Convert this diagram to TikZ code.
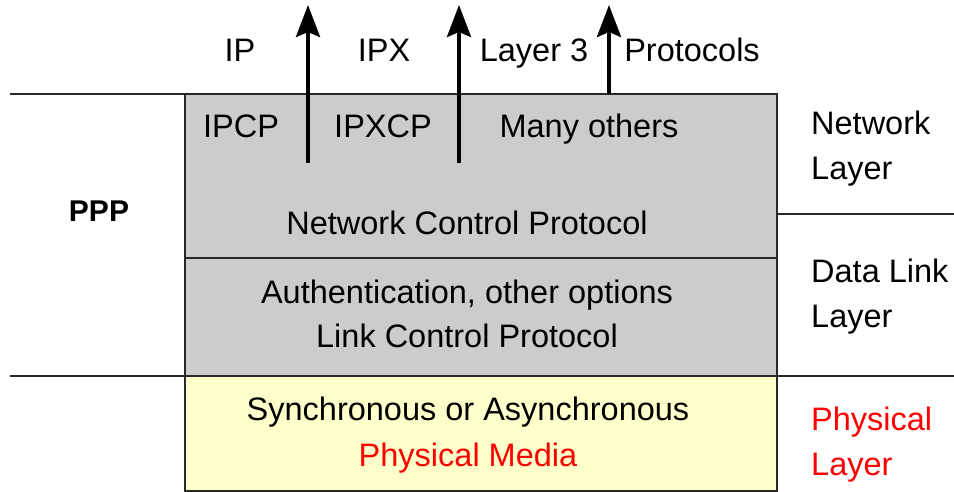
\documentclass[tikz,border=0pt]{standalone}
\usepackage{fontspec}
\setmainfont{Liberation Sans}
\usetikzlibrary{arrows.meta}
\definecolor{boxgray}{RGB}{204,204,204}
\definecolor{boxyellow}{RGB}{255,255,204}
\definecolor{edge}{RGB}{40,40,40}
\tikzset{
  x=1pt, y=-1pt,
  txt/.style={anchor=base, inner sep=0pt, font=\fontsize{32.5}{38}\selectfont},
  lefttxt/.style={txt, anchor=base west},
  redtxt/.style={text={rgb,255:red,255;green,0;blue,0}},
  rule/.style={draw=edge, line width=1.5pt},
  uparrow/.style={line width=4pt, -{Stealth[length=32pt,width=24pt,inset=5pt]}},
}
\begin{document}
\begin{tikzpicture}
\useasboundingbox (0,0) rectangle (954,492);
% boxes
\fill[boxgray] (185,94) rectangle (777,376);
\fill[boxyellow] (185,376) rectangle (777,491);
\draw[rule] (185,94) rectangle (777,376);
\draw[rule] (185,258) -- (777,258);
\draw[rule] (185,376) -- (185,491) -- (777,491) -- (777,376);
% side rules
\coordinate (lt) at (10,94);
\coordinate (lb) at (10,376);
\coordinate (rm) at (954,214);
\coordinate (rb) at (954,376);
\draw[rule] (lt) -- (185,94);
\draw[rule] (lb) -- (185,376);
\draw[rule] (777,214) -- (rm);
\draw[rule] (777,376) -- (rb);
% arrows
\coordinate (a1s) at (308,163); \coordinate (a1e) at (308,5);
\coordinate (a2s) at (459,163); \coordinate (a2e) at (459,5);
\coordinate (a3s) at (609,94);  \coordinate (a3e) at (609,5);
\draw[uparrow] (a1s) -- (a1e);
\draw[uparrow] (a2s) -- (a2e);
\draw[uparrow] (a3s) -- (a3e);
% top labels
\node[txt] (ip) at (240,62) {IP};
\node[txt] (ipx) at (384,62) {IPX};
\node[txt] (l3) at (534,62) {Layer 3};
\node[txt] (prot) at (692,62) {Protocols};
% in box
\node[txt] (ipcp) at (241,138) {IPCP};
\node[txt] (ipxcp) at (383,138) {IPXCP};
\node[txt] (many) at (589,138) {Many others};
\node[txt] (ncp) at (467,235) {Network Control Protocol};
\node[txt] (auth) at (467,303) {Authentication, other options};
\node[txt] (lcp) at (467,347) {Link Control Protocol};
\node[txt] (sync) at (468,420) {Synchronous or Asynchronous};
\node[txt, redtxt] (media) at (468,466) {Physical Media};
% left
\node[txt, font=\fontsize{30}{36}\selectfont\bfseries] (ppp) at (99,222) {PPP};
% right
\node[lefttxt] (nl1) at (811,135) {Network};
\node[lefttxt] (nl2) at (811,180) {Layer};
\node[lefttxt] (dl1) at (811,282) {Data Link};
\node[lefttxt] (dl2) at (811,327) {Layer};
\node[lefttxt, redtxt] (pl1) at (811,430) {Physical};
\node[lefttxt, redtxt] (pl2) at (811,475) {Layer};
\end{tikzpicture}
\end{document}
